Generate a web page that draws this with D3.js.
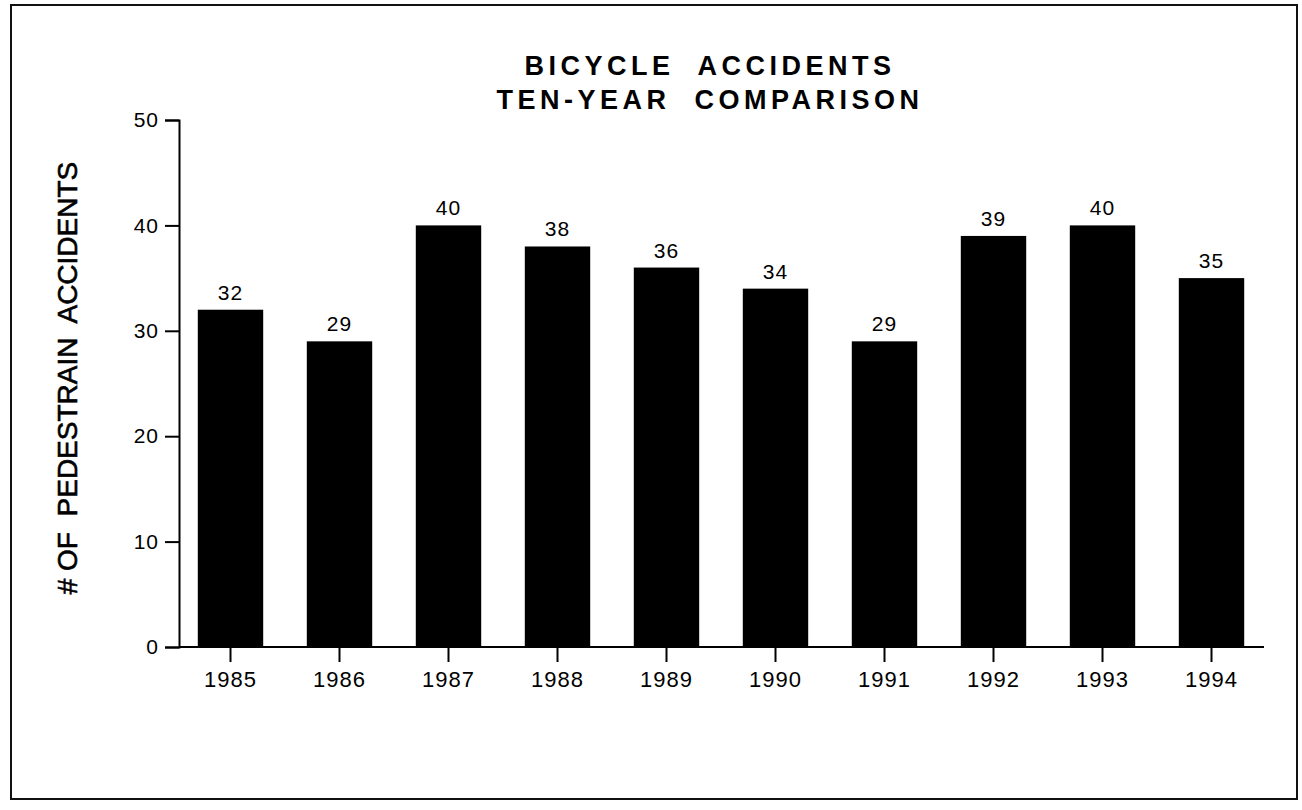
<!DOCTYPE html>
<html>
<head>
<meta charset="utf-8">
<script src="https://cdn.jsdelivr.net/npm/d3@7"></script>
<style>
  body { margin: 0; background: #fff; }
  text { font-family: "Liberation Sans", Arial, Helvetica, sans-serif; fill: #000; }
</style>
</head>
<body>
<script>
// Data
const years = ["1985", "1986", "1987", "1988", "1989", "1990", "1991", "1992", "1993", "1994"];
const accidents = [32, 29, 40, 38, 36, 34, 29, 39, 40, 35];
const yTicks = [0, 10, 20, 30, 40, 50];
const titleLines = ["BICYCLE  ACCIDENTS", "TEN-YEAR  COMPARISON"];
const yTitle = "# OF  PEDESTRAIN  ACCIDENTS";

const width = 1302;
const height = 810;

const data = years.map((y, i) => ({ year: y, value: accidents[i] }));

const svg = d3.select("body").append("svg")
    .attr("width", width)
    .attr("height", height);

// outer frame
svg.append("rect")
    .attr("x", 11).attr("y", 5)
    .attr("width", 1286).attr("height", 794)
    .attr("fill", "none")
    .attr("stroke", "#111")
    .attr("stroke-width", 2);

const x = d3.scaleBand()
    .domain(years)
    .range([176, 1266])
    .paddingInner(0.4)
    .paddingOuter(0.2);

const y = d3.scaleLinear()
    .domain([0, 50])
    .range([647, 120]);

// bars
svg.append("g")
    .selectAll("rect")
    .data(data)
    .join("rect")
    .attr("x", d => x(d.year))
    .attr("y", d => y(d.value))
    .attr("width", x.bandwidth())
    .attr("height", d => y(0) - y(d.value))
    .attr("fill", "#000");

// value labels
svg.append("g")
    .style("font-size", "21px")
    .selectAll("text")
    .data(data)
    .join("text")
    .attr("x", d => x(d.year) + x.bandwidth() / 2)
    .attr("y", d => y(d.value) - 10)
    .attr("text-anchor", "middle")
    .attr("letter-spacing", "1px")
    .text(d => d.value);

// y axis
const yAxis = svg.append("g")
    .attr("transform", "translate(179,0)")
    .call(d3.axisLeft(y).tickValues(yTicks).tickSize(14).tickPadding(6));
yAxis.select(".domain").attr("stroke", "#000").attr("stroke-width", 2);
yAxis.selectAll(".tick line").attr("stroke", "#000").attr("stroke-width", 2);
yAxis.selectAll(".tick text")
    .style("font-size", "21px")
    .style("font-family", "'Liberation Sans', Arial, sans-serif")
    .attr("letter-spacing", "1px")
    .attr("fill", "#000");

// x axis
const xAxis = svg.append("g")
    .attr("transform", `translate(0,${y(0)})`)
    .call(d3.axisBottom(x).tickSize(15).tickPadding(9).tickSizeOuter(0));
xAxis.select(".domain")
    .attr("d", `M179,0H1264`)
    .attr("stroke", "#000").attr("stroke-width", 2);
xAxis.selectAll(".tick line").attr("stroke", "#000").attr("stroke-width", 2);
xAxis.selectAll(".tick text")
    .style("font-size", "22px")
    .style("font-family", "'Liberation Sans', Arial, sans-serif")
    .attr("letter-spacing", "1px")
    .attr("fill", "#000");

// title
svg.append("g")
    .selectAll("text")
    .data(titleLines)
    .join("text")
    .attr("x", 710)
    .attr("y", (d, i) => 75 + i * 34)
    .attr("text-anchor", "middle")
    .style("font-size", "27px")
    .style("font-weight", "bold")
    .style("white-space", "pre")
    .attr("letter-spacing", "4.5px")
    .text(d => d);

// y axis title
svg.append("text")
    .attr("transform", "translate(77,378) rotate(-90)")
    .attr("text-anchor", "middle")
    .style("font-size", "28px")
    .style("white-space", "pre")
    .style("stroke", "#000")
    .style("stroke-width", "0.6px")
    .text(yTitle);
</script>
</body>
</html>
